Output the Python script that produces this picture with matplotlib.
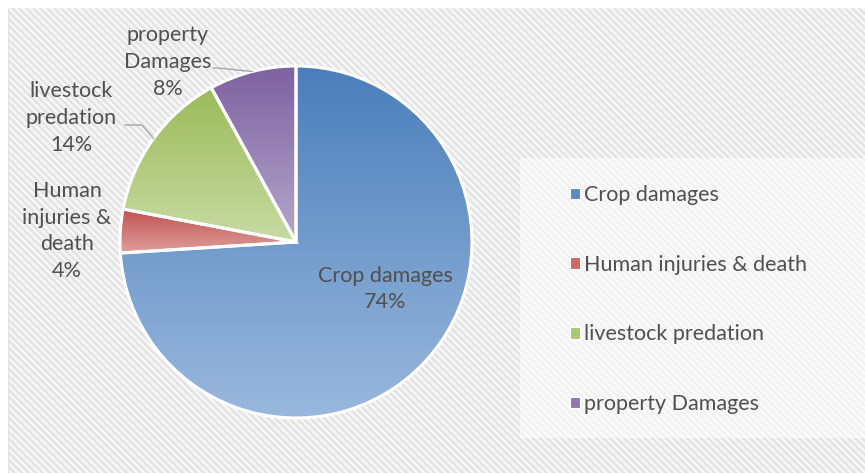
import numpy as np
import matplotlib
matplotlib.use("Agg")
import matplotlib.pyplot as plt
from matplotlib.colors import LinearSegmentedColormap
from matplotlib.patches import Rectangle, Patch

plt.rcParams['font.family'] = ['Lato', 'DejaVu Sans']

categories = ["Crop damages", "Human injuries & death", "livestock predation", "property Damages"]
values = [74, 4, 14, 8]
label_texts = ["Crop damages\n74%", "Human\ninjuries &\ndeath\n4%", "livestock\npredation\n14%", "property\nDamages\n8%"]
grad_top = ["#4a7ebb", "#c0504d", "#9bbb59", "#7d61a0"]
grad_bot = ["#9ab8dd", "#df9f9d", "#c8dba3", "#b6a7cb"]
legend_cols = ["#5a8bc6", "#cd6a67", "#aac774", "#8f77af"]

W, H = 865, 473
fig = plt.figure(figsize=(W / 100, H / 100), dpi=100)
fig.patch.set_facecolor("#f8f8f8")

# background hatch
bg = fig.add_axes([0, 0, 1, 1], zorder=0)
bg.set_xlim(0, W)
bg.set_ylim(0, H)
bg.axis("off")
for c in np.arange(-W, H + W, 7):
    xs = np.array([-10, W + 10])
    bg.plot(xs, H - xs - c, color="#e4e4e4", lw=2.0, solid_capstyle="butt")
# border
bg.plot([7.5, 7.5], [0, H - 7.5], color="#d9d9d9", lw=1.2)
bg.plot([7.5, W], [H - 7.5, H - 7.5], color="#d9d9d9", lw=1.2)
bg.add_patch(Rectangle((0, 0), 7, H, color="white", zorder=3))
bg.add_patch(Rectangle((0, H - 7), W, 7, color="white", zorder=3))
# legend box
bg.add_patch(Rectangle((520, H - 438), W - 520, 280, facecolor="white", alpha=0.55, edgecolor="none", zorder=4))

ax = fig.add_axes([0, 0, 1, 1], zorder=1)
ax.patch.set_alpha(0)
cx, cy, R = 296, H - 242, 176
wedges, _ = ax.pie(values, startangle=90, counterclock=False, center=(cx, cy), radius=R,
                   wedgeprops=dict(edgecolor="white", linewidth=2.2), frame=False)
ax.set_xlim(0, W)
ax.set_ylim(0, H)
ax.set_aspect("equal")
ax.axis("off")

grad = np.linspace(0, 1, 256).reshape(-1, 1)
for w, t, b in zip(wedges, grad_top, grad_bot):
    cmap = LinearSegmentedColormap.from_list("g", [t, b])
    ext = w.get_path().get_extents()
    w.set_facecolor("none")
    im = ax.imshow(grad, cmap=cmap, aspect="auto", origin="upper",
                   extent=(ext.x0, ext.x1, ext.y0, ext.y1), zorder=1.5)
    im.set_clip_path(w)
    w.set_zorder(2)

ax.set_xlim(0, W)
ax.set_ylim(0, H)

txt_col = "#505050"
fs = 15.5
pos = [(385, 289), (67, 231), (71, 118), (168, 62)]
for (px, py), t in zip(pos, label_texts):
    ax.text(px, H - py, t, ha="center", va="center", fontsize=fs, color=txt_col,
            linespacing=1.42, zorder=5)

# leader lines to wedge mid-angles
angles = []
start = 90.0
tot = sum(values)
for v in values:
    sweep = 360.0 * v / tot
    angles.append(np.deg2rad(start - sweep / 2))
    start -= sweep
lead = {3: [(214, 68), (218, 68)], 2: [(125, 125), (142, 125)]}
for i, pts in lead.items():
    ex = cx + R * np.cos(angles[i])
    ey = cy + R * np.sin(angles[i])
    xs = [p[0] for p in pts] + [ex]
    ys = [H - p[1] for p in pts] + [ey]
    ax.plot(xs, ys, color="#a6a6a6", lw=1.0, zorder=5)

handles = [Patch(facecolor=c, edgecolor="white", linewidth=0.8) for c in legend_cols]
leg = fig.legend(handles, categories, loc="upper left",
                 bbox_to_anchor=(570 / W, 1 - 185 / H), frameon=False,
                 fontsize=fs, labelcolor=txt_col, handlelength=0.45, handleheight=0.45,
                 handletextpad=0.2, labelspacing=2.31, borderpad=0, borderaxespad=0)
leg.set_zorder(6)

fig.savefig("out.png", dpi=100)
